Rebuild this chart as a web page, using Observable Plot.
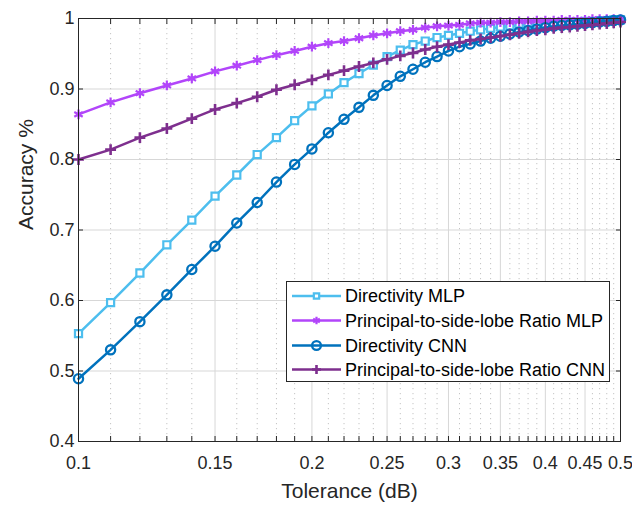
<!DOCTYPE html>
<html><head><meta charset="utf-8">
<script src="https://cdn.jsdelivr.net/npm/d3@7"></script>
<script src="https://cdn.jsdelivr.net/npm/@observablehq/plot@0.6"></script>
<style>body{margin:0;background:#fff}</style>
</head><body><div id="chart"></div>
<script>
const tolerance = [0.10,0.11,0.12,0.13,0.14,0.15,0.16,0.17,0.18,0.19,0.20,0.21,0.22,0.23,0.24,0.25,0.26,0.27,0.28,0.29,0.30,0.31,0.32,0.33,0.34,0.35,0.36,0.37,0.38,0.39,0.40,0.41,0.42,0.43,0.44,0.45,0.46,0.47,0.48,0.49,0.50];
const directivityMLP = [0.553,0.597,0.639,0.679,0.714,0.748,0.778,0.807,0.831,0.855,0.876,0.893,0.909,0.922,0.934,0.946,0.955,0.963,0.968,0.973,0.976,0.979,0.982,0.984,0.986,0.988,0.989,0.990,0.991,0.992,0.993,0.994,0.994,0.995,0.995,0.996,0.996,0.997,0.997,0.998,0.998];
const pslrMLP = [0.864,0.881,0.894,0.905,0.915,0.925,0.933,0.941,0.948,0.954,0.960,0.965,0.968,0.972,0.976,0.979,0.982,0.984,0.987,0.989,0.990,0.991,0.993,0.994,0.994,0.995,0.995,0.996,0.996,0.997,0.997,0.997,0.998,0.998,0.998,0.998,0.999,0.999,0.999,0.999,0.999];
const directivityCNN = [0.489,0.530,0.570,0.608,0.644,0.677,0.710,0.739,0.768,0.793,0.815,0.838,0.857,0.874,0.891,0.905,0.918,0.928,0.938,0.946,0.954,0.960,0.964,0.968,0.972,0.975,0.978,0.981,0.983,0.985,0.987,0.989,0.990,0.991,0.992,0.993,0.994,0.995,0.996,0.997,0.998];
const pslrCNN = [0.800,0.814,0.831,0.844,0.858,0.871,0.880,0.889,0.899,0.906,0.913,0.920,0.926,0.932,0.937,0.942,0.947,0.951,0.956,0.960,0.963,0.966,0.969,0.971,0.973,0.975,0.977,0.979,0.981,0.983,0.984,0.986,0.987,0.988,0.989,0.990,0.991,0.992,0.993,0.994,0.995];

const seriesNames = ["Directivity MLP","Principal-to-side-lobe Ratio MLP","Directivity CNN","Principal-to-side-lobe Ratio CNN"];
const seriesValues = [directivityMLP, pslrMLP, directivityCNN, pslrCNN];
const seriesColors = ["#4DBEEE","#B245FA","#0072BD","#7E2F8E"];
const seriesSymbols = ["square","asterisk","circle","plus"];

const xTicks = [0.1,0.15,0.2,0.25,0.3,0.35,0.4,0.45,0.5];
const xTickLabels = ["0.1","0.15","0.2","0.25","0.3","0.35","0.4","0.45","0.5"];
const xMinorTicks = [0.11,0.12,0.13,0.14,0.16,0.17,0.18,0.19,0.21,0.22,0.23,0.24,0.26,0.27,0.28,0.29,0.31,0.32,0.33,0.34,0.36,0.37,0.38,0.39,0.41,0.42,0.43,0.44,0.46,0.47,0.48,0.49];
const yTicks = [0.4,0.5,0.6,0.7,0.8,0.9,1];
const yTickLabels = ["0.4","0.5","0.6","0.7","0.8","0.9","1"];
const xLabel = "Tolerance (dB)";
const yLabel = "Accuracy %";

const rows = [];
seriesNames.forEach((name, k) => seriesValues[k].forEach((v, i) => rows.push({series: name, t: tolerance[i], v})));

const FONT = "Liberation Sans, Arial, Helvetica, sans-serif";
const AX = "#262626";
const allXTicks = xTicks.concat(xMinorTicks);
const markerR = {square: 4.0, asterisk: 4.6, circle: 4.6, plus: 3.6};
const markerW = {square: 2.2, asterisk: 2.2, circle: 2.3, plus: 2.6};

const seriesMarks = [];
seriesNames.forEach((name, k) => {
  const d = rows.filter(r => r.series === name);
  const s = seriesSymbols[k];
  seriesMarks.push(Plot.line(d, {x: "t", y: "v", stroke: seriesColors[k], strokeWidth: 2.5}));
  seriesMarks.push(Plot.dot(d, {
    x: "t", y: "v", symbol: s, stroke: seriesColors[k],
    fill: s === "square" ? "white" : "none",
    r: markerR[s], strokeWidth: markerW[s]
  }));
});

const svg = Plot.plot({
  width: 632, height: 505,
  marginLeft: 78, marginRight: 12, marginTop: 18, marginBottom: 64,
  style: {fontFamily: FONT, fontSize: "18px", color: AX, background: "white"},
  x: {type: "log", domain: [0.1, 0.5]},
  y: {domain: [0.4, 1]},
  marks: [
    Plot.gridY(yTicks, {stroke: "#d7d7d7", strokeOpacity: 1, strokeWidth: 1}),
    Plot.gridX(xMinorTicks, {stroke: "#c4c4c4", strokeOpacity: 1, strokeWidth: 1, strokeDasharray: "1.2,3.8"}),
    Plot.gridX(xTicks, {stroke: "#d7d7d7", strokeOpacity: 1, strokeWidth: 1}),
    ...seriesMarks,
    Plot.frame({stroke: AX, strokeWidth: 1}),
    Plot.axisX(allXTicks, {anchor: "bottom", tickSize: -5, tickFormat: () => "", label: null, stroke: AX}),
    Plot.axisX(allXTicks, {anchor: "top", tickSize: -5, tickFormat: () => "", label: null, stroke: AX}),
    Plot.axisY(yTicks, {anchor: "left", tickSize: -5, tickFormat: () => "", label: null, stroke: AX}),
    Plot.axisY(yTicks, {anchor: "right", tickSize: -5, tickFormat: () => "", label: null, stroke: AX}),
    Plot.axisX(xTicks, {anchor: "bottom", tickSize: 0, tickPadding: 15, fontSize: 18, fill: AX, label: null,
      tickFormat: d => xTickLabels[xTicks.indexOf(d)]}),
    Plot.axisY(yTicks, {anchor: "left", tickSize: 0, tickPadding: 4, fontSize: 18, fill: AX, label: null,
      tickFormat: d => yTickLabels[yTicks.indexOf(d)]}),
    Plot.text([xLabel], {frameAnchor: "bottom", text: d => d, dy: 50, fontSize: 21, fill: AX, lineAnchor: "middle"}),
    Plot.text([yLabel], {frameAnchor: "left", text: d => d, dx: -52, rotate: -90, fontSize: 21, fill: AX, lineAnchor: "middle"})
  ]
});

// Legend (MATLAB style box)
const symbolTypes = {square: d3.symbolSquare, asterisk: d3.symbolAsterisk, circle: d3.symbolCircle, plus: d3.symbolPlus};
const lg = d3.select(svg).append("g").attr("font-family", FONT).attr("font-size", 18)
  .attr("fill", "#000").attr("text-anchor", "start");
lg.append("rect").attr("x", 286.5).attr("y", 281.5).attr("width", 323).attr("height", 100)
  .attr("fill", "white").attr("stroke", AX).attr("stroke-width", 1);
const rowY = [296, 320.5, 345.5, 369.5];
seriesNames.forEach((name, k) => {
  const y = rowY[k];
  const s = seriesSymbols[k];
  lg.append("line").attr("x1", 292).attr("x2", 341).attr("y1", y).attr("y2", y)
    .attr("stroke", seriesColors[k]).attr("stroke-width", 2.5);
  const r = {square: 3.0, asterisk: 3.6, circle: 4.4, plus: 3.0}[s];
  lg.append("path").attr("transform", `translate(316.5,${y})`)
    .attr("d", d3.symbol(symbolTypes[s], Math.PI * r * r)())
    .attr("stroke", seriesColors[k]).attr("stroke-width", markerW[s])
    .attr("fill", s === "square" ? "white" : "none");
  lg.append("text").attr("x", 345).attr("y", y + 6.3).attr("text-anchor", "start").text(name);
});

document.getElementById("chart").appendChild(svg);
</script>
</body></html>
